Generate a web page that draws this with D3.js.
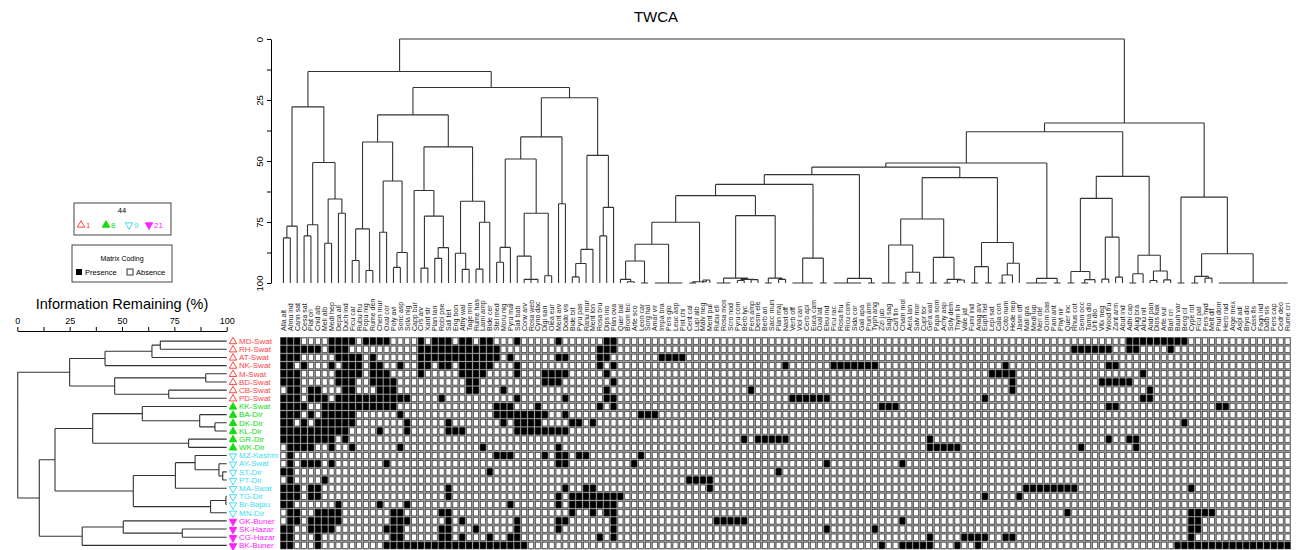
<!DOCTYPE html>
<html>
<head>
<meta charset="utf-8">
<script src="https://cdn.jsdelivr.net/npm/d3@7"></script>
<style>
body { margin: 0; background: #fff; }
svg { font-family: "Liberation Sans", Arial, sans-serif; }
</style>
</head>
<body>
<svg id="chart" width="1296" height="550"></svg>
<script>
// ---- data ----
const rowLabels = ["MD-Swat","RH-Swat","AT-Swat","NK-Swat","M-Swat","BD-Swat","CB-Swat","PD-Swat",
  "KK-Swat","BA-Dir","DK-Dir","KL-Dir","GR-Dir","WK-Dir",
  "MZ-Kashm","AY-Swat","ST-Dir","PT-Dir","MA-Swat","TG-Dir","Br-Bajau","MN-Dir",
  "GK-Buner","SK-Hazar","CG-Hazar","BK-Buner"];
const rowGroup = [0,0,0,0,0,0,0,0, 1,1,1,1,1,1, 2,2,2,2,2,2,2,2, 3,3,3,3];
const groupColors = ["#ff4444","#11dd11","#44dcee","#ff22ff"];
const groupCounts = ["1","8","9","21"];

const colLabels = [
  "Alla alt","Ahnu ind","Cann sat","Cesa sat","Plat ori","Cnid alb","Meli alb","Medi hep","Depa all","Duch ind",
  "Ficu car","Rubu fru","Popu nig","Rume den","Chen mur","Oxal cor","Poly avi","Sonc asp","Sola nig","Capp bur",
  "Cirs arv","Xant str","Plan lan","Robi pse","Sali tet","Erig bon","Athy wal","Tage min","Rume has","Lami amp",
  "Bide cer","Stel med","Moru nig","Pyru mal","Sali bab","Conv arv","Rosa web","Cyno dac","Digi san","Olea eur",
  "Ment arv","Dodo vis","Bide bit","Pyru pas","Ranu mur","Ment lon","Rosa bru","Dips ino","Plan ova","Quer bal",
  "Brom tec","Arte sco","Leon car","Sorg hal","Amar vir","Impa bra","Pers glo","Leuc asp","Pist chi","Cent cal",
  "Lupi alb","Malv neg","Ment pul","Rubu ell","Rosa mos","Scro nod","Pyru com","Berb lyc","Pers amp","Desm ele",
  "Berb ari","Sacc mun","Plan maj","Nast off","Verb off","Viol can","Cerb api","Euca cam","Oxal lat","Eleu ind",
  "Ficu rac","Rosa fru","Ricu com","Sida cor","Gali apa","Prun arm","Typh ang","Zizi jub","Sagi sag","Cart tin",
  "Cham mol","Aera lan","Salv mor","Cupr tor","Gera wal","Papa som","Achy asp","Soly dem","Thym lin","Vale jat",
  "Fumi ind","Anag arv","Euph hel","Lepi sat","Cala con","Coto num","Hede nep","Jasm off","Mali gra","Medi lup",
  "Neri ole","Ocim bas","Pani ant","Phyl nir","Quer inc","Rhus cot","Senn occ","Tama dio","Urti dio","Vitx neg",
  "Wood fru","Zant arm","Abut ind","Adhi cap","Ajug bra","Alnu nit","Andr pan","Dios kak","Arte vul","Barl cri",
  "Bauh var","Berg cil","Cype rot","Ficu pal","Pers hyd","Melt dit","Phul dom","Herb rud","Arge mex","Aspl adi",
  "Bryo dio","Cass fis","Fagn ind","Dalb sis","Pers cap","Cedr deo","Rume cri"];

// presence columns per row (ranges of column indices)
const presence = [
  "0-2,7-10,12-15,20,22-24,26-27,29-30,34,40,47-48,123-131",
  "0-5,7-9,20-31,46-48,115-120,123-124,129",
  "0-2,8-11,13,20-31,33,40-41,46-47,55-58",
  "0-1,3,7,9-11,13-14,17,20-21,23-24,26-30,34,46,48,73,80-86,105,120-121",
  "0-2,8-11,13-15,20,26-29,34,38-41,47,103-106,125",
  "0-2,8-10,13-16,27-28,38-40,48,106,119-123",
  "1-2,4-5,9-10,14-16,27-28,32,47,68,106,126",
  "0-2,4-6,8-18,23,34,41,47-48,74-79,102,125-126",
  "0-3,6-16,31-33,37,46,48,87-89,120-121,136-137",
  "0-2,4,6-10,17,31-38,41,52-54",
  "0-1,3,5-10,18,24,32,34-37,42-43,45,131",
  "0-9,14,18,24-26,34-41",
  "0-7,9,67,69-73,94,120,123-124",
  "1-4,7,10,17,29,40,94-98,116,124",
  "1,31-33,38,40-41,43-44,52",
  "1,3-5,7,15,40-41,51,79,90",
  "0-1,30,72",
  "1,6,59-62",
  "0-2,4-5,24,41,44-45,62,108-115,132",
  "0-2,4-5,24,40,42-49,102,107",
  "0-1,8,14,18,33,40,42-48",
  "1-2,5-8,16-17,23-24,42,45,47-48,114,132-135",
  "1-2,4-8,16-18,24,26,34,40-41,48,63-67,90,132-133",
  "0-1,4-7,15-17,23-24,28,34,40,48,79,86,132-133",
  "0-1,5,16-17,23-24,26,30,33-34,46,48,94,99-102,105-106,132",
  "0-1,5,15-35,87,90-94,98,101,130-146"];

// column dendrogram (leaves "*" in column order, numbers = % information remaining at merge)
const colL1 = "(((*,*)81.5,*)76.7,(((*,*)80.7,*)76.1,((*,*)83.7,(*,*)71.4)65.6)50.6)27.8";
const colL2a = "((((*,*)90.8,(*,*)94.9)77.8,((*,*)79.2,((*,*)93.6,*)87.5)58.2)42.2,((*,((*,*)93.9,((*,*)89.9,*)85.5)72.6)62.1,((*,(*,*)94.4)87.8,((*,*)94.3,*)75.1)66.5)44.2)31.1";
const colL2b = "(((((*,*)91.5,*)85.4,((*,(*,*,*)98.5)89.0,(*,*)97.0)71.4)49.2,(*,*)67.5)40.1,((((*,*)97.5,*)92.0,*)86.2,((*,*)80.7,*)69.0)47.7)24.1";
const colA = "((((((*,(*,*)99.5)98.5,(*,*)100)91.0,(*,*,*,*,*)100)84.1,((*,*)100,(*,*)98.8)99.5)75.1,(((*,*,*)100,((*,*)99,(*,*)98.6)98.5)98,((*,*)100,(*,*)98.5)98)72.4)64.2,((*,*,*,*)100,(*,*)100)89.8)59.6";
const colA2 = "((*,*,*,*,*)100,(*,*)100)98.1";
const colB = "((((*,*,*)100,((*,*)100,(*,*)100)95.6)84.4,((*,*)100,((*,*)100,(*,*)98.8)98.5)89.5)73.8,(((*,*)100,(*,*)100)93.3,(((*,*)100,*)96.7,*)91.9)83.4)56.8";
const colR1aii = "((*,*,*,*)100,(*,*)100)98.1";
const colR1b = "((((*,*)100,((*,*)100,*)98.6)95.3,((*,*)98.4,(*,*)97.6)81.2)65.3,(((*,*)100,*)96.2,((*,*)99,(*,*)98.7)95.1)88.6)56.3";
const colR2 = "((*,*)100,(((*,*)100,(*,*)98)97.3,(*,*,*,*,*,*,*,*,*,*,*)100)88.0)64.8";
const colTree = "((" + colL1 + ",(" + colL2a + "," + colL2b + ")19.9)13.3,((((("
  + colA + "," + colA2 + ")55.6," + colB + ")52.5," + colR1aii + ")50.8," + colR1b + ")38.0," + colR2 + ")34.4)0";

// row dendrogram
const rowRed = "((((*,*)68.3,*)64.3,*)41.9,((*,*)90,(*,*)72.3)46.5)25.0";
const rowGreen = "((*,(*,(*,*)94.4)87.1)59.7,(*,*)81.8)36.0";
const rowCyan = "(((*,(*,(*,*)98.1)96.3)84.9,*)75.5,((*,*)99.6,*)92.3)55.4";
const rowMagenta = "((*,(*,*)78.8)50.6,*)31.0";
const rowTree = "(" + rowRed + ",((" + rowGreen + "," + rowCyan + ")18.0," + rowMagenta + ")10.5)0.2";

const axisTicks = [0, 12.5, 25, 37.5, 50, 62.5, 75, 87.5, 100];

// ---- helpers ----
function parseTree(s) {
  let pos = 0, leaf = 0;
  function node() {
    if (s[pos] === "*") { pos++; return { leaf: leaf++, h: 100 }; }
    pos++;
    const kids = [node()];
    while (s[pos] === ",") { pos++; kids.push(node()); }
    pos++;
    const m = /^[\d.]+/.exec(s.slice(pos));
    pos += m[0].length;
    return { children: kids, h: +m[0] };
  }
  return d3.hierarchy(node());
}

function expand(spec) {
  const set = new Set();
  spec.split(",").forEach(p => {
    const [a, b] = p.split("-").map(Number);
    for (let i = a; i <= (isNaN(b) ? a : b); i++) set.add(i);
  });
  return set;
}

const svg = d3.select("#chart");

// ---- scales ----
const x = d3.scaleBand().domain(d3.range(colLabels.length)).range([280, 1291]);
const y = d3.scaleBand().domain(d3.range(rowLabels.length)).range([337, 549.5]);
const hTop = d3.scaleLinear().domain([0, 100]).range([39, 283]);
const hLeft = d3.scaleLinear().domain([0, 100]).range([17.3, 226.7]);

// ---- dendrogram drawing ----
function drawTree(root, leafPos, hScale, vertical) {
  root.eachAfter(n => {
    if (!n.children) n.p = leafPos(n.data.leaf);
    else n.p = (n.children[0].p + n.children[n.children.length - 1].p) / 2;
  });
  const path = d3.path();
  root.each(n => {
    if (!n.children) return;
    const c0 = n.children[0].p, c1 = n.children[n.children.length - 1].p;
    const h = hScale(n.data.h);
    if (vertical) { path.moveTo(c0, h); path.lineTo(c1, h); }
    else { path.moveTo(h, c0); path.lineTo(h, c1); }
    n.children.forEach(c => {
      const hc = hScale(c.data.h);
      if (vertical) { path.moveTo(c.p, h); path.lineTo(c.p, hc); }
      else { path.moveTo(h, c.p); path.lineTo(hc, c.p); }
    });
  });
  svg.append("path").attr("d", path.toString())
    .attr("fill", "none").attr("stroke", "#333").attr("stroke-width", 1.1);
}

drawTree(parseTree(colTree), i => x(i) + x.bandwidth() / 2, hTop, true);
drawTree(parseTree(rowTree), i => y(i) + y.bandwidth() / 2, hLeft, false);

// ---- title ----
svg.append("text").attr("x", 656).attr("y", 22).attr("text-anchor", "middle")
  .attr("font-size", 15).text("TWCA");

// ---- top axis ----
const topAxis = svg.append("g").attr("transform", "translate(271,0)")
  .call(d3.axisLeft(hTop).tickValues(axisTicks).tickSize(4).tickSizeOuter(0)
    .tickFormat(d => d % 25 === 0 ? d : ""));
topAxis.select(".domain").attr("stroke", "#000");
topAxis.selectAll("text").attr("x", 0).attr("y", 0).attr("dy", 0)
  .attr("text-anchor", "middle").attr("font-size", 9.5)
  .attr("transform", "translate(-8,0) rotate(-90)");

// ---- left axis ----
const leftAxis = svg.append("g").attr("transform", "translate(0,331)")
  .call(d3.axisTop(hLeft).tickValues(axisTicks).tickSize(4).tickSizeOuter(0).tickPadding(3)
    .tickFormat(d => d % 25 === 0 ? d : ""));
leftAxis.selectAll("text").attr("font-size", 9);
svg.append("text").attr("x", 122).attr("y", 309).attr("text-anchor", "middle")
  .attr("font-size", 14.5).text("Information Remaining (%)");

// ---- column labels ----
svg.append("g").selectAll("text").data(colLabels).join("text")
  .attr("transform", (d, i) => `translate(${x(i) + x.bandwidth() / 2 + 2.5},331) rotate(-90)`)
  .attr("font-size", 7).attr("fill", "#222").text(d => d);

// ---- row labels ----
const sym = d3.symbol().type(d3.symbolTriangle).size(24);
const rowG = svg.append("g").selectAll("g").data(rowLabels).join("g")
  .attr("transform", (d, i) => `translate(0,${y(i) + y.bandwidth() / 2})`);
rowG.append("path").attr("d", sym)
  .attr("transform", (d, i) => `translate(233,0.5) rotate(${rowGroup[i] >= 2 ? 180 : 0})`)
  .attr("fill", (d, i) => rowGroup[i] % 2 ? groupColors[rowGroup[i]] : "#fff")
  .attr("stroke", (d, i) => groupColors[rowGroup[i]]).attr("stroke-width", 1);
rowG.append("text").attr("x", 239).attr("dy", "0.35em").attr("font-size", 8)
  .attr("fill", (d, i) => groupColors[rowGroup[i]]).text(d => d);

// ---- matrix ----
svg.append("rect").attr("x", 280).attr("y", 337).attr("width", 1011).attr("height", 212.5)
  .attr("fill", "#9c9c9c");
const cells = [];
presence.forEach((spec, r) => {
  const set = expand(spec);
  colLabels.forEach((c, ci) => cells.push({ r, c: ci, on: set.has(ci) }));
});
svg.append("g").selectAll("rect").data(cells).join("rect")
  .attr("x", d => x(d.c) + 0.9).attr("y", d => y(d.r) + 0.9)
  .attr("width", x.bandwidth() - 1.8).attr("height", y.bandwidth() - 1.8)
  .attr("fill", d => d.on ? "#000" : "#fff")
  .attr("stroke", d => d.on ? "#000" : "#3a3a3a").attr("stroke-width", 0.7);

// ---- legends ----
const lg1 = svg.append("g");
lg1.append("rect").attr("x", 74).attr("y", 203).attr("width", 97).attr("height", 32)
  .attr("fill", "#fff").attr("stroke", "#444");
lg1.append("text").attr("x", 122).attr("y", 213).attr("text-anchor", "middle")
  .attr("font-size", 7.5).text("44");
const legX = [81, 106, 129, 149];
groupCounts.forEach((t, g) => {
  lg1.append("path").attr("d", sym)
    .attr("transform", `translate(${legX[g]},${225}) rotate(${g >= 2 ? 180 : 0})`)
    .attr("fill", g % 2 ? groupColors[g] : "#fff").attr("stroke", groupColors[g]);
  lg1.append("text").attr("x", legX[g] + 5).attr("y", 228).attr("font-size", 8)
    .attr("fill", groupColors[g]).text(t);
});

const lg2 = svg.append("g");
lg2.append("rect").attr("x", 72).attr("y", 245).attr("width", 100).attr("height", 37)
  .attr("fill", "#fff").attr("stroke", "#444");
lg2.append("text").attr("x", 122).attr("y", 261).attr("text-anchor", "middle")
  .attr("font-size", 7).text("Matrix Coding");
lg2.append("rect").attr("x", 76).attr("y", 269).attr("width", 6).attr("height", 6).attr("fill", "#000");
lg2.append("text").attr("x", 85).attr("y", 275).attr("font-size", 7.5).text("Presence");
lg2.append("rect").attr("x", 127).attr("y", 269).attr("width", 6).attr("height", 6)
  .attr("fill", "#fff").attr("stroke", "#000").attr("stroke-width", 0.8);
lg2.append("text").attr("x", 136).attr("y", 275).attr("font-size", 7.5).text("Absence");
</script>
</body>
</html>
